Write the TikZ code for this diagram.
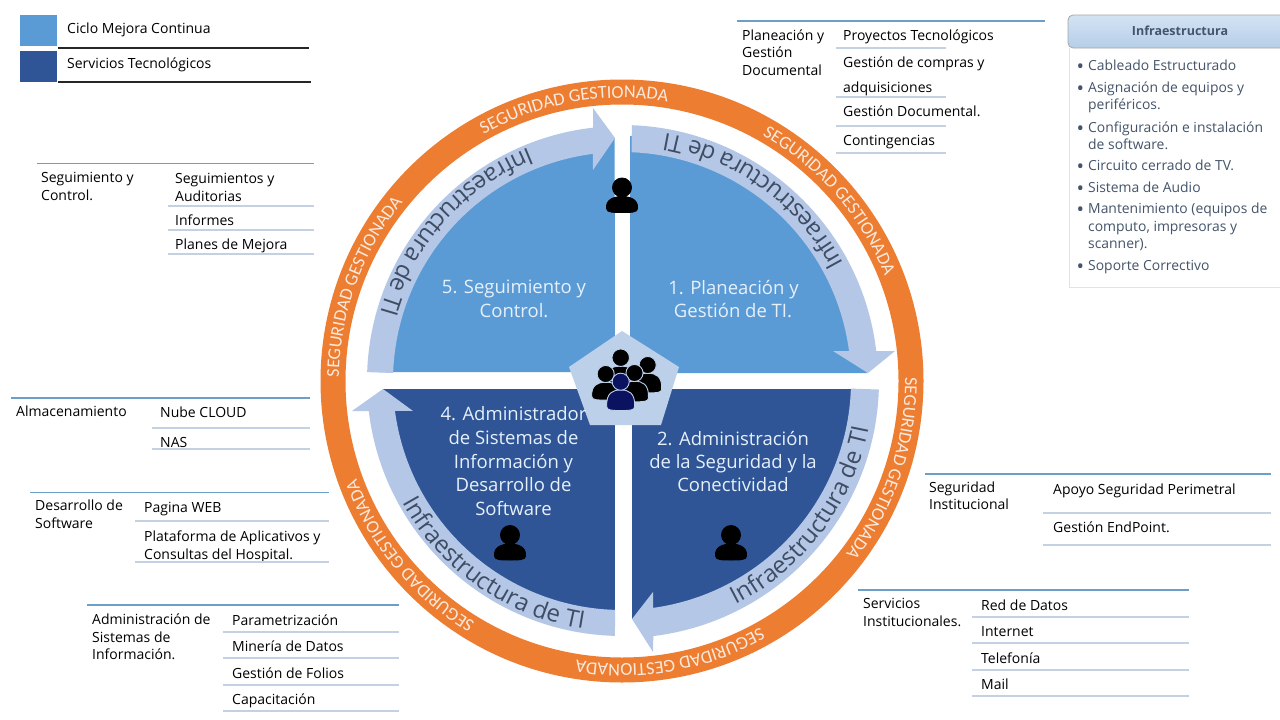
\documentclass[tikz,border=0pt]{standalone}
\usepackage{fontspec}
\setmainfont{Open Sans}
\newfontfamily\calib{Carlito}
\usetikzlibrary{decorations.text}
\definecolor{lightq}{HTML}{5B9BD5}
\definecolor{darkq}{HTML}{2F5597}
\definecolor{bandc}{HTML}{B4C7E7}
\definecolor{ringc}{HTML}{ED7D31}
\definecolor{pentc}{HTML}{BCD0E9}
\definecolor{ruletop}{HTML}{6C9FC8}
\definecolor{rulesub}{HTML}{C3D1E3}
\definecolor{slate}{HTML}{44546A}
\definecolor{bandtxt}{HTML}{3E4D63}
\definecolor{ringtxt}{HTML}{FBE9DD}
\definecolor{quadtxt}{HTML}{E6F0FA}
\definecolor{navy}{HTML}{0B1260}
\definecolor{hdrtop}{HTML}{D3E3F3}
\definecolor{hdrbot}{HTML}{B6CEE9}
\newcounter{lblno}
\newcommand{\lbl}[3]{\stepcounter{lblno}\node[txtlbl] (lbl\thelblno) at (#1,{#2+5}) {#3};}
\newcommand{\inflb}[3]{\stepcounter{lblno}\node[inflbl] (lbl\thelblno) at (#1,{#2+5}) {#3};}
\newcommand{\qd}[3]{\stepcounter{lblno}\node[quadlbl] (lbl\thelblno) at (#1,{#2+6.5}) {#3};}
\newcommand{\ringtext}[1]{\path[decorate,decoration={text along path,text align=center,
  text={|\calib\fontsize{18.2}{18}\selectfont\color{ringtxt}|SEGURIDAD GESTIONADA}}]
  ({#1+32}:283) arc ({#1+32}:{#1-32}:283);}
\newcommand{\bandtext}[1]{\path[decorate,decoration={text along path,text align=center,
  text={|\fontsize{24}{24}\selectfont\color{bandtxt}|Infraestructura de TI}}]
  ({#1-44}:251) arc ({#1-44}:{#1+44}:251);}
\newcommand{\personicon}[6]{% x, y of head, scale, fill, outline, body bottom
  \begin{scope}[shift={(#1,#2)},scale=#3]
  \path[fill=#4,draw=#5,line width=.9pt] (-15.5,#6-4) .. controls (-16.5,12) and (-8,9) .. (0,9)
     .. controls (8,9) and (16.5,12) .. (15.5,#6-4) .. controls (15.5,#6) and (9,#6) .. (0,#6)
     .. controls (-9,#6) and (-15.5,#6) .. (-15.5,#6-4) -- cycle;
  \path[fill=#4,draw=#5,line width=.9pt] (0,0) circle (9.5);
  \end{scope}}
\tikzset{
  txtlbl/.style={anchor=base west,inner sep=0pt,font=\fontsize{14}{15}\selectfont,text=black},
  inflbl/.style={anchor=base west,inner sep=0pt,font=\fontsize{13.9}{15}\selectfont,text=slate},
  quadlbl/.style={anchor=base,inner sep=0pt,font=\fontsize{18.5}{20}\selectfont,text=quadtxt},
  toprule/.style={draw=ruletop,line width=1.4pt},
  subrule/.style={draw=rulesub,line width=1.2pt},
  legrule/.style={draw=black!85,line width=1.1pt},
}
\begin{document}
\begin{tikzpicture}[x=1pt,y=-1pt]
\useasboundingbox (0,0) rectangle (1280,720);
\fill[white] (0,0) rectangle (1280,720);

\begin{scope}[shift={(622,381)},x=1pt,y=1pt]
  % ring
  \fill[ringc,even odd rule] (0,0) circle (301.5) (0,0) circle (276.5);
  \foreach \a in {160,100,41,-18.5,-80,-140.5} {\ringtext{\a}}
  % quadrants
  \fill[lightq] (-7,9) -- (-243,9) arc (177.9:91.7:243) -- cycle;
  \fill[lightq] (8,8) -- (8,245) arc (88.1:1.9:245) -- (246,8) -- cycle;
  \fill[darkq] (10,-8) -- (238,-8) arc (-1.9:-87.6:238) -- cycle;
  \fill[darkq] (-7,-8) -- (-239,-8) arc (181.9:268.3:239) -- cycle;
  % arrows
  \fill[bandc] (178:255) arc (178:96.5:255) -- (-29,273) -- (-7,243) -- (-29,211)
     -- (97.3:229) arc (97.3:178:229) -- cycle;
  \fill[bandc] (87.8:256) arc (87.8:6.7:256) -- (273,30) -- (246,8) -- (211,30)
     -- (7.5:229) arc (7.5:87.6:229) -- cycle;
  \fill[bandc] (-1.9:257) arc (-1.9:-83:257) -- (31,-271) -- (10,-238) -- (31,-211)
     -- (-82.2:229) arc (-82.2:-1.9:229) -- cycle;
  \fill[bandc] (-91.6:255) arc (-91.6:-173.2:255) -- (-270,-30) -- (-239,-8) -- (-209,-30)
     -- (-172.5:229) arc (-172.5:-91.7:229) -- cycle;
  % arrow texts
  \bandtext{138} \bandtext{54} \bandtext{-37} \bandtext{235}
\end{scope}

% pentagon
\fill[pentc] (622,331) -- (679,367) -- (661,425) -- (590,425) -- (569,367) -- cycle;

% person icons
\personicon{622}{187.5}{1}{black}{black}{25}
\personicon{731}{535}{1}{black}{black}{25}
\personicon{510}{535}{1}{black}{black}{25}
% group icon
\personicon{620.7}{357.7}{.92}{black}{pentc}{28}
\personicon{647.7}{365}{.9}{black}{pentc}{31}
\personicon{605.7}{374}{.9}{black}{pentc}{29}
\personicon{634.5}{373}{.9}{black}{pentc}{32}
\personicon{620.7}{381.7}{.9}{navy}{pentc}{32}

% quadrant text
\qd{514}{287}{5. Seguimiento y}
\qd{514}{311}{Control.}
\qd{733.5}{288}{1. Planeación y}
\qd{733}{311}{Gestión de TI.}
\qd{513.5}{414}{4. Administrador}
\qd{513.5}{438}{de Sistemas de}
\qd{513.5}{462}{Información y}
\qd{513.5}{485}{Desarrollo de}
\qd{513.5}{509}{Software}
\qd{733}{439}{2. Administración}
\qd{733}{462}{de la Seguridad y la}
\qd{733}{485}{Conectividad}

% legend
\fill[lightq] (20,15) rectangle (57,46);
\fill[darkq] (20,51) rectangle (57,82);
\draw[legrule] (58,48) -- (309,48);
\draw[legrule] (58,82) -- (311,82);
\lbl{67}{29}{Ciclo Mejora Continua}
\lbl{67}{63}{Servicios Tecnológicos}

% Seguimiento
\draw[toprule] (37,163.5) -- (314,163.5);
\lbl{41}{177}{Seguimiento y}
\lbl{41}{195}{Control.}
\lbl{175}{178}{Seguimientos y}
\lbl{175}{196}{Auditorias}
\draw[subrule] (168,206) -- (314,206);
\lbl{175}{220}{Informes}
\draw[subrule] (168,230) -- (314,230);
\lbl{175}{244}{Planes de Mejora}
\draw[subrule] (168,254) -- (314,254);

% Planeacion
\draw[toprule] (737,21) -- (1045,21);
\lbl{742}{35}{Planeación y}
\lbl{742}{52}{Gestión}
\lbl{742}{70}{Documental}
\lbl{843}{35}{Proyectos Tecnológicos}
\draw[subrule] (836,48) -- (946,48);
\lbl{843}{62}{Gestión de compras y}
\lbl{843}{87}{adquisiciones}
\draw[subrule] (836,97) -- (946,97);
\lbl{843}{111}{Gestión Documental.}
\draw[subrule] (836,126) -- (946,126);
\lbl{843}{140}{Contingencias}
\draw[subrule] (836,153) -- (946,153);

% Almacenamiento
\draw[toprule] (11,398) -- (310,398);
\lbl{16}{411}{Almacenamiento}
\lbl{160}{412}{Nube CLOUD}
\draw[subrule] (152,428) -- (310,428);
\lbl{160}{442}{NAS}
\draw[subrule] (152,449) -- (310,449);

% Desarrollo
\draw[toprule] (30,492.5) -- (329,492.5);
\lbl{35}{505}{Desarrollo de}
\lbl{35}{523}{Software}
\lbl{144}{507}{Pagina WEB}
\draw[subrule] (135,521) -- (329,521);
\lbl{144}{536}{Plataforma de Aplicativos y}
\lbl{144}{554}{Consultas del Hospital.}
\draw[subrule] (135,562) -- (329,562);

% Administracion
\draw[toprule] (87,605) -- (399,605);
\lbl{92}{619}{Administración de}
\lbl{92}{637}{Sistemas de}
\lbl{92}{654}{Información.}
\lbl{232}{620}{Parametrización}
\draw[subrule] (223,632) -- (399,632);
\lbl{232}{646}{Minería de Datos}
\draw[subrule] (223,658) -- (399,658);
\lbl{232}{673}{Gestión de Folios}
\draw[subrule] (223,685) -- (399,685);
\lbl{232}{699}{Capacitación}
\draw[subrule] (223,711) -- (399,711);

% Seguridad Institucional
\draw[toprule] (925,474) -- (1271,474);
\lbl{929}{487}{Seguridad}
\lbl{929}{504}{Institucional}
\lbl{1053}{489}{Apoyo Seguridad Perimetral}
\draw[subrule] (1043,513) -- (1271,513);
\lbl{1053}{527}{Gestión EndPoint.}
\draw[subrule] (1043,545) -- (1271,545);

% Servicios Institucionales
\draw[toprule] (858,590) -- (1189,590);
\lbl{863}{603}{Servicios}
\lbl{863}{621}{Institucionales.}
\lbl{981}{605}{Red de Datos}
\draw[subrule] (972,617) -- (1189,617);
\lbl{981}{631}{Internet}
\draw[subrule] (972,643) -- (1189,643);
\lbl{981}{658}{Telefonía}
\draw[subrule] (972,670) -- (1189,670);
\lbl{981}{684}{Mail}
\draw[subrule] (972,696) -- (1189,696);

% Infraestructura panel
\draw[draw=rulesub!60,line width=1pt] (1069,48) -- (1069,287) -- (1280,287);
\draw[draw=black!35,line width=.8pt,top color=hdrtop,bottom color=hdrbot,rounded corners=5pt]
  (1290,15) -- (1068,15) -- (1068,48) -- (1290,48);
\node[inner sep=0pt,font=\fontsize{12.5}{15}\selectfont\bfseries,text=slate] (infhead) at (1180,31) {Infraestructura};
\foreach \yy in {68,90,130,168,190,211,268} {\inflb{1076.5}{\yy}{\fontsize{20}{20}\selectfont •}}
\inflb{1088}{65}{Cableado Estructurado}
\inflb{1088}{87}{Asignación de equipos y}
\inflb{1088}{104}{periféricos.}
\inflb{1088}{127}{Configuración e instalación}
\inflb{1088}{144}{de software.}
\inflb{1088}{165}{Circuito cerrado de TV.}
\inflb{1088}{187}{Sistema de Audio}
\inflb{1088}{208}{Mantenimiento (equipos de}
\inflb{1088}{226}{computo, impresoras y}
\inflb{1088}{243}{scanner).}
\inflb{1088}{265}{Soporte Correctivo}
\end{tikzpicture}
\end{document}
